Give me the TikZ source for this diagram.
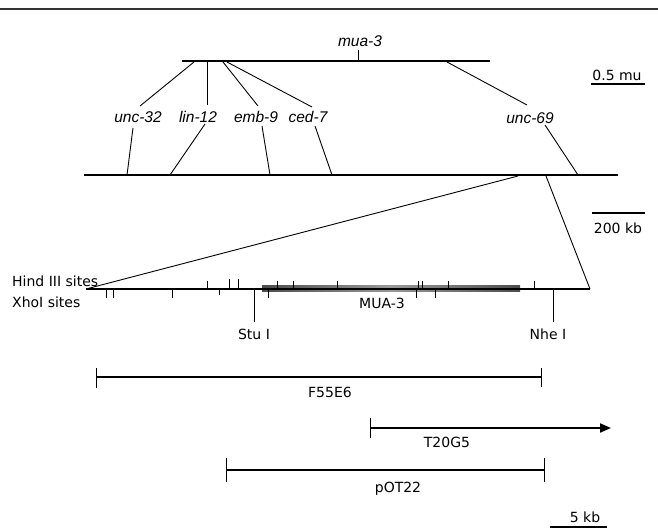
\documentclass[tikz,border=0pt]{standalone}
\usepackage{fontspec}
\setmainfont{DejaVu Sans}
\newfontfamily\genefont{Liberation Sans}
\usetikzlibrary{arrows.meta}
\tikzset{
  lbl/.style={inner sep=0pt, font=\fontsize{14}{16}\selectfont},
  gene/.style={inner sep=0pt, font=\genefont\itshape\fontsize{15.5}{18}\selectfont},
  chrom/.style={line width=2.6pt},
  conn/.style={line width=0.9pt},
  sitetick/.style={line width=1pt},
  bar/.style={line width=2pt},
  endtick/.style={line width=1pt},
  scalebar/.style={line width=1.8pt}
}
\begin{document}
\begin{tikzpicture}[x=1pt,y=-1pt]
\useasboundingbox (0,0) rectangle (658,529);
% top rule
\draw[line width=1.6pt, black!80] (0,9) -- (658,9);

% genetic map (top)
\coordinate (t1) at (182,61);
\coordinate (t2) at (490,61);
\draw[chrom] (t1) -- (t2);
\node[gene] (mua) at (360,41) {mua-3};
\coordinate (muatop) at (358,50);
\coordinate (muabot) at (358,61);
\draw[conn] (muatop) -- (muabot);

\node[lbl] (mu) at (617,75) {0.5 mu};
\coordinate (mu1) at (591,84);
\coordinate (mu2) at (645,84);
\draw[scalebar] (mu1) -- (mu2);

% gene labels
\node[gene] (unc32) at (138,117) {unc-32};
\node[gene] (lin12) at (198,117) {lin-12};
\node[gene] (emb9)  at (256,117) {emb-9};
\node[gene] (ced7)  at (308,117) {ced-7};
\node[gene] (unc69) at (530,118) {unc-69};

% upper connectors
\coordinate (ua1) at (194,62); \coordinate (ua2) at (140,106);
\coordinate (ub1) at (207,62); \coordinate (ub2) at (207,105);
\coordinate (uc1) at (223,62); \coordinate (uc2) at (258,106);
\coordinate (ud1) at (227,62); \coordinate (ud2) at (312,107);
\coordinate (ue1) at (447,62); \coordinate (ue2) at (527,105);
\draw[conn] (ua1) -- (ua2);
\draw[conn] (ub1) -- (ub2);
\draw[conn] (uc1) -- (uc2);
\draw[conn] (ud1) -- (ud2);
\draw[conn] (ue1) -- (ue2);

% physical map line
\coordinate (p1) at (84,175);
\coordinate (p2) at (618,175);
\draw[chrom] (p1) -- (p2);

% lower connectors
\coordinate (la1) at (133,128); \coordinate (la2) at (127,175);
\coordinate (lb1) at (205,124); \coordinate (lb2) at (170,175);
\coordinate (lc1) at (262,126); \coordinate (lc2) at (270,175);
\coordinate (ld1) at (315,126); \coordinate (ld2) at (332,175);
\coordinate (le1) at (545,125); \coordinate (le2) at (578,175);
\draw[conn] (la1) -- (la2);
\draw[conn] (lb1) -- (lb2);
\draw[conn] (lc1) -- (lc2);
\draw[conn] (ld1) -- (ld2);
\draw[conn] (le1) -- (le2);

\node[lbl] (kb200) at (618,228) {200 kb};
\coordinate (kb1) at (592,213);
\coordinate (kb2) at (645,213);
\draw[line width=1.2pt] (kb1) -- (kb2);

% fan to the restriction map
\coordinate (f1) at (518,176);
\coordinate (f2) at (546,176);
\coordinate (m1) at (86,289);
\coordinate (m2) at (590,289);
\draw[conn] (f1) -- (m1);
\draw[conn] (f2) -- (m2);

% restriction map
\shade[left color=black!70, right color=black!70, middle color=black!40] (262,285) rectangle (520,291);
\draw[line width=1.2pt] (m1) -- (m2);
\draw[line width=2pt] (530,289) -- (547,289);
\node[lbl, anchor=west] (hind) at (12,281) {Hind III sites};
\node[lbl, anchor=west] (xho) at (12,302) {XhoI sites};
\node[lbl] (mualbl) at (382,303) {MUA-3};

\foreach \x in {207,277,293,337,418,422,448,534}
  \draw[sitetick] (\x,281) -- (\x,289);
\foreach \x in {229,238}
  \draw[sitetick] (\x,279) -- (\x,289);
\foreach \x in {106,113,172,268,416,435}
  \draw[sitetick] (\x,289) -- (\x,298);
\draw[sitetick] (219,289) -- (219,295);

\coordinate (stu1) at (254,289); \coordinate (stu2) at (254,322);
\coordinate (nhe1) at (553,289); \coordinate (nhe2) at (553,322);
\draw[line width=1pt] (stu1) -- (stu2);
\draw[line width=1pt] (nhe1) -- (nhe2);
\node[lbl] (stu) at (254,334) {Stu I};
\node[lbl] (nhe) at (548,334) {Nhe I};

% clones
\coordinate (fa) at (96,377); \coordinate (fb) at (541,377);
\draw[bar] (fa) -- (fb);
\draw[endtick] (96,368) -- (96,388);
\draw[endtick] (541,368) -- (541,387);
\node[lbl] (f55) at (330,392) {F55E6};

\coordinate (ta) at (370,428); \coordinate (tb) at (611,428);
\draw[bar, -{Triangle[length=11pt,width=9pt]}] (ta) -- (tb);
\draw[endtick] (370,418) -- (370,438);
\node[lbl] (t20) at (447,442) {T20G5};

\coordinate (pa) at (226,470); \coordinate (pb) at (544,470);
\draw[bar] (pa) -- (pb);
\draw[endtick] (226,458) -- (226,482);
\draw[endtick] (544,458) -- (544,482);
\node[lbl] (pot) at (398,489) {pOT22};

\node[lbl] (kb5) at (585,517) {5 kb};
\coordinate (k5a) at (550,527); \coordinate (k5b) at (607,527);
\draw[scalebar] (k5a) -- (k5b);
\end{tikzpicture}
\end{document}
